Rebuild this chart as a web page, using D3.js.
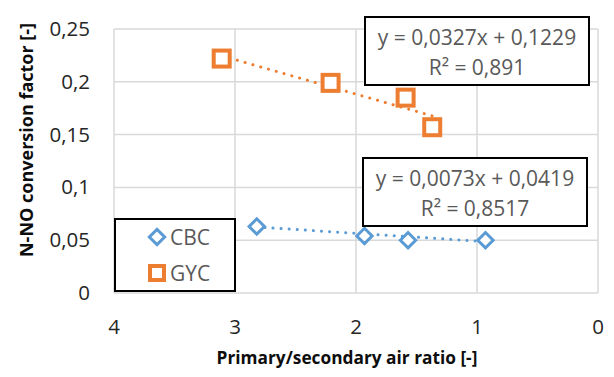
<!DOCTYPE html>
<html>
<head>
<meta charset="utf-8">
<script src="https://cdn.jsdelivr.net/npm/d3@7"></script>
<style>
  body { margin: 0; background: #fff; }
  text { font-family: "Open Sans", sans-serif; }
</style>
</head>
<body>
<svg width="614" height="377"></svg>
<script>
// data
var seriesNames = ["CBC", "GYC"];
var cbcX = [2.82, 1.93, 1.57, 0.93];
var cbcY = [0.063, 0.054, 0.050, 0.050];
var gycX = [3.11, 2.21, 1.59, 1.37];
var gycY = [0.222, 0.199, 0.185, 0.157];
var trendSlope = [0.0073, 0.0327];
var trendIntercept = [0.0419, 0.1229];
var trendLabels = [["y = 0,0073x + 0,0419", "R² = 0,8517"], ["y = 0,0327x + 0,1229", "R² = 0,891"]];
var xTicks = [4, 3, 2, 1, 0];
var yTicks = [0, 0.05, 0.1, 0.15, 0.2, 0.25];

var colors = ["#5b9bd5", "#ed7d31"];

var svg = d3.select("svg");

var x = d3.scaleLinear().domain([4, 0]).range([114, 598]);
var y = d3.scaleLinear().domain([0, 0.25]).range([293, 29]);

var fmt = d => String(d).replace(".", ",");

// grid
svg.append("g").selectAll("line").data(yTicks).join("line")
    .attr("x1", x(4)).attr("x2", x(0))
    .attr("y1", d => y(d)).attr("y2", d => y(d))
    .attr("stroke", "#d9d9d9").attr("stroke-width", 1.5);
svg.append("g").selectAll("line").data(xTicks).join("line")
    .attr("x1", d => x(d)).attr("x2", d => x(d))
    .attr("y1", y(0)).attr("y2", y(0.25))
    .attr("stroke", "#d9d9d9").attr("stroke-width", 1.5);

// tick labels
svg.append("g").selectAll("text").data(yTicks).join("text")
    .attr("x", 90).attr("y", d => y(d) + 7)
    .attr("text-anchor", "end")
    .attr("font-size", 20.5).attr("fill", "#262626")
    .text(fmt);
svg.append("g").selectAll("text").data(xTicks).join("text")
    .attr("x", d => x(d)).attr("y", 334)
    .attr("text-anchor", "middle")
    .attr("font-size", 20.5).attr("fill", "#262626")
    .text(fmt);

// axis titles
svg.append("text")
    .attr("x", 347).attr("y", 364)
    .attr("text-anchor", "middle")
    .attr("font-size", 17.3).attr("font-weight", "bold").attr("fill", "#0d0d0d")
    .text("Primary/secondary air ratio [-]");
svg.append("text")
    .attr("transform", "translate(33,140) rotate(-90)")
    .attr("text-anchor", "middle")
    .attr("font-size", 18).attr("font-weight", "bold").attr("fill", "#0d0d0d")
    .text("N-NO conversion factor [-]");

var series = [
  cbcX.map((v, i) => ({x: v, y: cbcY[i]})),
  gycX.map((v, i) => ({x: v, y: gycY[i]}))
];

// trendlines
series.forEach(function(pts, s) {
  var ext = d3.extent(pts, d => d.x);
  svg.append("line")
      .attr("x1", x(ext[1])).attr("y1", y(trendSlope[s] * ext[1] + trendIntercept[s]))
      .attr("x2", x(ext[0])).attr("y2", y(trendSlope[s] * ext[0] + trendIntercept[s]))
      .attr("stroke", colors[s]).attr("stroke-width", 3)
      .attr("stroke-dasharray", "0.1 8").attr("stroke-linecap", "round");
});

var diamond = d3.symbol().type(d3.symbolDiamond2).size(150);

// markers
svg.append("g").selectAll("path").data(series[0]).join("path")
    .attr("transform", d => "translate(" + x(d.x) + "," + y(d.y) + ")")
    .attr("d", diamond)
    .attr("fill", "#fff").attr("stroke", colors[0]).attr("stroke-width", 3);
svg.append("g").selectAll("rect").data(series[1]).join("rect")
    .attr("x", d => x(d.x) - 8).attr("y", d => y(d.y) - 8)
    .attr("width", 16).attr("height", 16)
    .attr("fill", "#fff").attr("stroke", colors[1]).attr("stroke-width", 4);

// trendline label boxes
var boxes = [{x: 363, y: 158}, {x: 365, y: 17}];
boxes.forEach(function(b, s) {
  svg.append("rect")
      .attr("x", b.x).attr("y", b.y).attr("width", 224).attr("height", 68)
      .attr("fill", "#fff").attr("stroke", "#000").attr("stroke-width", 2);
  svg.append("g").selectAll("text").data(trendLabels[s]).join("text")
      .attr("x", b.x + 112).attr("y", (d, i) => b.y + 28 + i * 30)
      .attr("text-anchor", "middle")
      .attr("font-size", 21).attr("fill", "#595959")
      .text(d => d);
});

// legend
var legend = svg.append("g");
legend.append("rect")
    .attr("x", 115).attr("y", 219).attr("width", 120).attr("height", 72)
    .attr("fill", "#fff").attr("stroke", "#000").attr("stroke-width", 2);
var items = legend.selectAll("g").data(seriesNames).join("g")
    .attr("transform", (d, i) => "translate(157," + (237 + i * 36) + ")");
items.filter((d, i) => i === 0).append("path")
    .attr("d", diamond)
    .attr("fill", "#fff").attr("stroke", colors[0]).attr("stroke-width", 3);
items.filter((d, i) => i === 1).append("rect")
    .attr("x", -7).attr("y", -7).attr("width", 14).attr("height", 14)
    .attr("fill", "#fff").attr("stroke", colors[1]).attr("stroke-width", 4);
items.append("text")
    .attr("x", 13).attr("y", 8)
    .attr("font-size", 21).attr("fill", "#595959")
    .text(d => d);
</script>
</body>
</html>
